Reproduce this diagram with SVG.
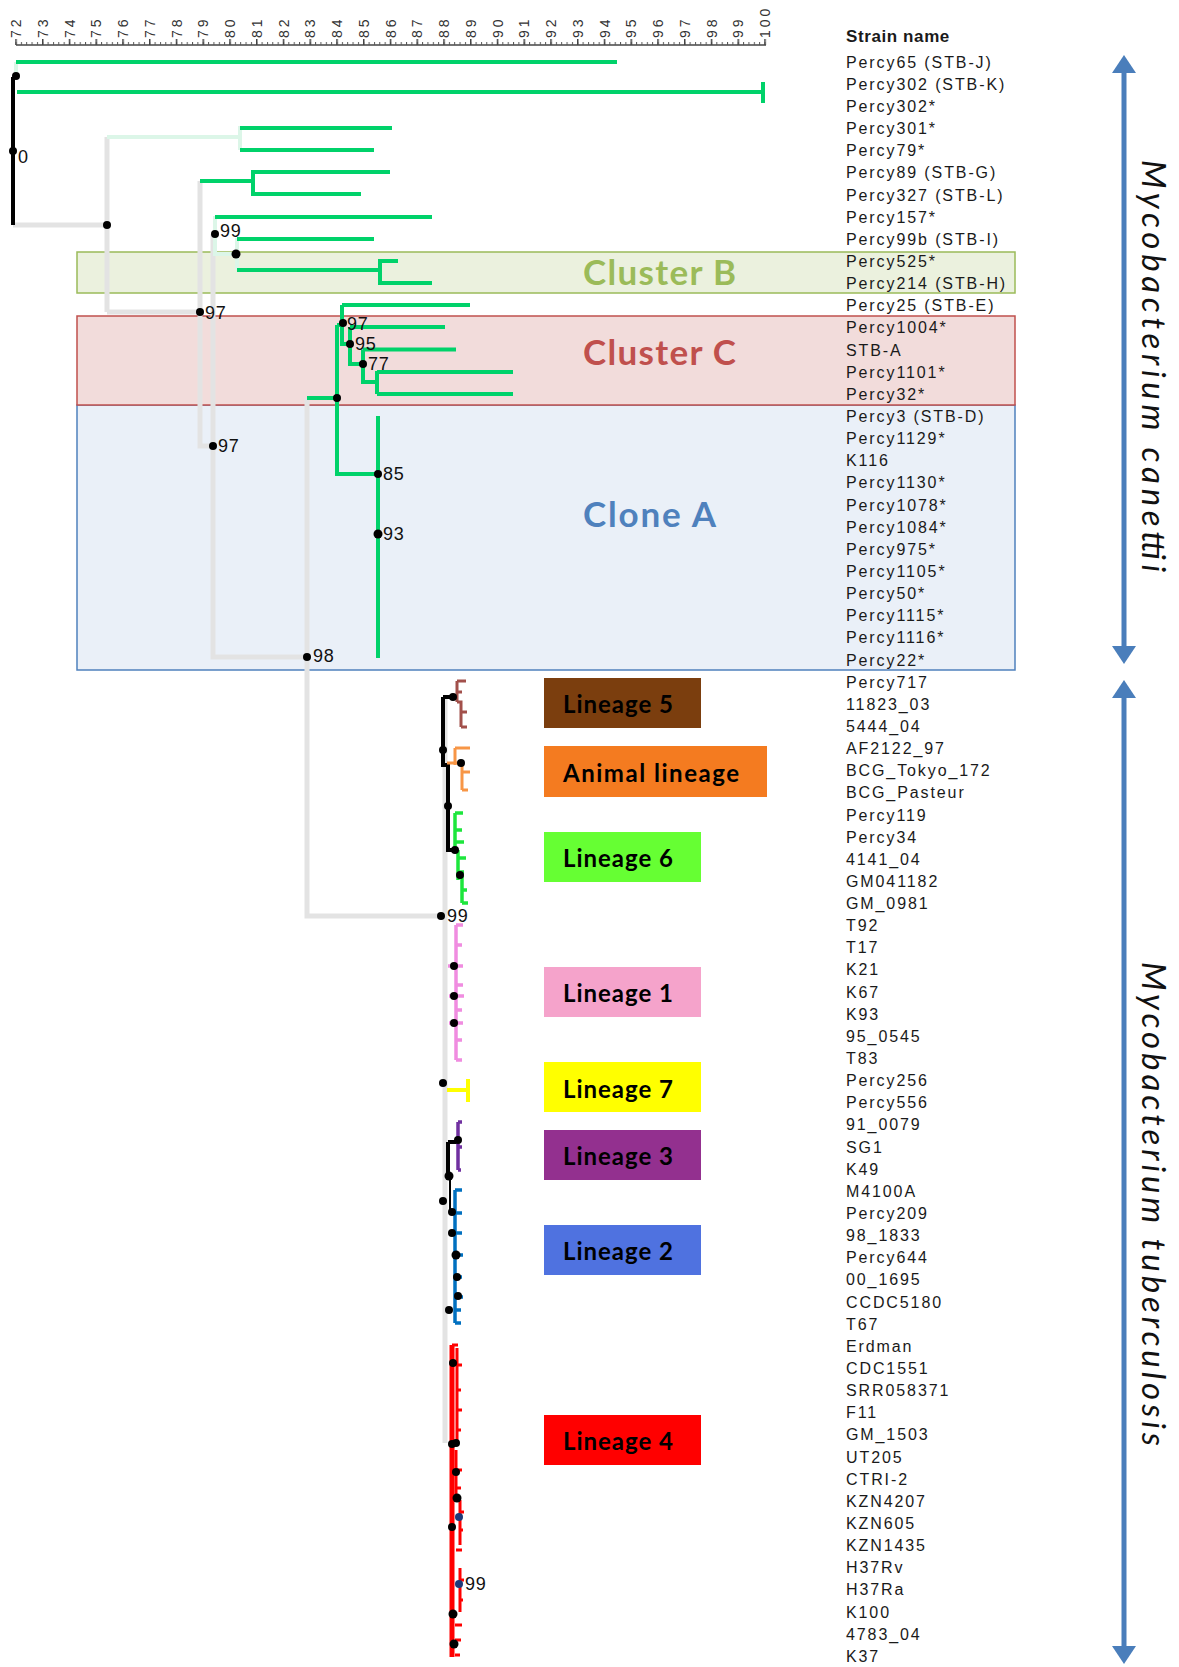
<svg xmlns="http://www.w3.org/2000/svg" width="1179" height="1667" viewBox="0 0 1179 1667">
<defs>
<style>
.lf{font-family:"Liberation Sans",Arial,sans-serif;font-size:16px;letter-spacing:1.9px;fill:#1a1a1a}
.hd{font-family:"Liberation Sans",Arial,sans-serif;font-size:17px;font-weight:bold;letter-spacing:0.6px;fill:#1a1a1a}
.tk{font-family:"Liberation Sans",Arial,sans-serif;font-size:14px;letter-spacing:3px;fill:#333}
.bs{font-family:"Liberation Sans",Arial,sans-serif;font-size:18px;letter-spacing:0.8px;fill:#111}
.cl{font-family:Lato,"Open Sans",sans-serif;font-size:35px;font-weight:bold}
.ln{font-family:Lato,"Open Sans",sans-serif;font-size:24px;font-weight:bold;fill:#000}
.sp{font-family:Lato,"Open Sans",sans-serif;font-size:33px;font-style:italic;fill:#111}
.g{fill:none;stroke:#00D26A;stroke-width:4}
.gr{fill:none;stroke:#E3E3E3;stroke-width:5}
.mt{fill:none;stroke:#DCF6E8;stroke-width:4}
.bk{fill:none;stroke:#000;stroke-width:4}
.d{fill:#000}
.db{fill:#1F3A7A}
.ar{stroke:#4A7EBB;stroke-width:5}
.arh{fill:#4A7EBB}
</style>
<pattern id="minor" patternUnits="userSpaceOnUse" x="15.5" y="0" width="5.35" height="50"><rect x="0" y="0" width="1" height="50" fill="#555"/></pattern>
<pattern id="major" patternUnits="userSpaceOnUse" x="15.25" y="0" width="26.75" height="50"><rect x="0" y="0" width="1.5" height="50" fill="#444"/></pattern>
</defs>
<rect width="1179" height="1667" fill="#fff"/>

<g id="clade-boxes">
<g id="clone-a"><rect x="77" y="405" width="938" height="265" fill="#EAF0F8" stroke="#4F81BD" stroke-width="1.5"/>
<text class="cl" x="583" y="527" fill="#4F81BD" textLength="133" lengthAdjust="spacing">Clone A</text></g>
<g id="cluster-c"><rect x="77" y="316" width="938" height="89" fill="#F2DCDB" stroke="#C0504D" stroke-width="1.5"/>
<text class="cl" x="583" y="365" fill="#C0504D" textLength="153" lengthAdjust="spacing">Cluster C</text></g>
<g id="cluster-b"><rect x="77" y="252" width="938" height="41" fill="#EBF1DE" stroke="#9BBB59" stroke-width="1.5"/>
<text class="cl" x="583" y="285" fill="#9BBB59" textLength="153" lengthAdjust="spacing">Cluster B</text></g>
</g>

<g id="axis">
<line x1="16" y1="45" x2="766" y2="45" stroke="#444" stroke-width="1.5"/>
<rect x="15" y="42" width="751" height="3" fill="url(#minor)"/>
<rect x="15" y="39" width="752" height="6" fill="url(#major)"/>
<g class="tk">
<text transform="translate(21,38) rotate(-90)">72</text>
<text transform="translate(47.75,38) rotate(-90)">73</text>
<text transform="translate(74.5,38) rotate(-90)">74</text>
<text transform="translate(101.25,38) rotate(-90)">75</text>
<text transform="translate(128,38) rotate(-90)">76</text>
<text transform="translate(154.75,38) rotate(-90)">77</text>
<text transform="translate(181.5,38) rotate(-90)">78</text>
<text transform="translate(208.25,38) rotate(-90)">79</text>
<text transform="translate(235,38) rotate(-90)">80</text>
<text transform="translate(261.75,38) rotate(-90)">81</text>
<text transform="translate(288.5,38) rotate(-90)">82</text>
<text transform="translate(315.25,38) rotate(-90)">83</text>
<text transform="translate(342,38) rotate(-90)">84</text>
<text transform="translate(368.75,38) rotate(-90)">85</text>
<text transform="translate(395.5,38) rotate(-90)">86</text>
<text transform="translate(422.25,38) rotate(-90)">87</text>
<text transform="translate(449,38) rotate(-90)">88</text>
<text transform="translate(475.75,38) rotate(-90)">89</text>
<text transform="translate(502.5,38) rotate(-90)">90</text>
<text transform="translate(529.25,38) rotate(-90)">91</text>
<text transform="translate(556,38) rotate(-90)">92</text>
<text transform="translate(582.75,38) rotate(-90)">93</text>
<text transform="translate(609.5,38) rotate(-90)">94</text>
<text transform="translate(636.25,38) rotate(-90)">95</text>
<text transform="translate(663,38) rotate(-90)">96</text>
<text transform="translate(689.75,38) rotate(-90)">97</text>
<text transform="translate(716.5,38) rotate(-90)">98</text>
<text transform="translate(743.25,38) rotate(-90)">99</text>
<text transform="translate(770,38) rotate(-90)">100</text>
</g>
</g>

<g id="connectors">
<path class="gr" d="M13,225 H107 M107,137 V312 M107,312 H200 M200,181 V446 H213 M213,234 V657 H307 M307,398 V916 H441"/>
<path class="gr" d="M445,697 V1443" stroke-width="6"/>
<path class="mt" d="M16,62 V76 M107,137 H240 M240,126 V150 M215,216 V254 H237 M237,238 V270"/>
<path class="bk" d="M13,77 V225"/>
<path class="g" d="M16,62 H617 M17,92 H763 M763,82 V103"/>
<path class="g" d="M240,128 H392 M240,150 H374"/>
<path class="g" d="M200,181 H253 M253,170 V196 M253,172 H390 M253,194 H361"/>
<path class="g" d="M215,217 H432 M237,239 H374 M237,270 H380 M380,259 V285 M380,261 H398 M380,283 H432"/>
<path class="g" d="M307,398 H337 M337,325 V474 H378 M337,325 H342 M342,305 V344 H350 M342,305 H470 M350,327 V364 H363 M350,327 H445 M363,349.5 V382 H377 M363,349.5 H456 M377,371 V394 M377,372 H513 M377,394 H513"/>
<path class="g" d="M378,416 V658"/>
<path class="bk" d="M443,697 V750 M443,697 H453 M443,750 V765 H448 V850 H456"/>
<path fill="none" stroke="#A2504B" stroke-width="3" d="M453,697 H457 M457,681 V702 M457,681 H466 M457,692 H462 M457,702 H461 V727 M461,712 H467 M461,727 H467"/>
<path fill="none" stroke="#F79646" stroke-width="3" d="M455,748 H470 M455,748 V765 M447,763 H462 M462,763 V790 M462,772 H470 M462,790 H468"/>
<path fill="none" stroke="#1DE63C" stroke-width="3.5" d="M455,813 V850 M455,813 H463 M455,830 H462 M455,842 H464 M458,850 V880 M458,858 H466 M458,872 H464 M462,876 V903 M462,890 H467 M462,903 H468"/>
<path fill="none" stroke="#F08CE0" stroke-width="3.5" d="M456,925 V1060 M456,925 H463 M456,945 H462 M448,966 H463 M456,985 H463 M449,996 H464 M456,1010 H462 M449,1023 H463 M456,1040 H462 M456,1060 H462"/>
<path fill="none" stroke="#FFFF00" stroke-width="4" d="M447,1090 H468 M468,1079 V1102"/>
<path class="bk" stroke-width="3" d="M448,1142 V1176 M448,1142 H458"/>
<path fill="none" stroke="#7030A0" stroke-width="3.5" d="M458,1122 V1170 M458,1122 H462 M458,1147 H462 M458,1170 H461"/>
<path fill="none" stroke="#000" stroke-width="2" d="M450,1176 V1213"/>
<path fill="none" stroke="#0070C0" stroke-width="3.5" d="M455,1190 V1323 M455,1190 H462 M455,1213 H462 M455,1233 H462 M455,1255 H463 M455,1277 H462 M455,1297 H463 M455,1310 H461 M455,1323 H461"/>
<path fill="none" stroke="#FF0000" stroke-width="5" d="M452,1345 V1657"/>
<path fill="none" stroke="#FF0000" stroke-width="3" d="M452,1345 H458 M457,1348 V1440 M457,1365 H462 M457,1390 H461 M457,1410 H462 M457,1430 H461 M456,1450 V1500 M456,1470 H462 M456,1488 H461 M460,1500 V1545 M460,1512 H464 M460,1530 H463 M456,1550 H462 M460,1568 V1612 M460,1580 H464 M460,1600 H463 M455,1625 H462 M455,1640 H461 M455,1655 H460"/>
</g>

<g id="bootstrap-nodes">
<circle class="d" cx="16" cy="76" r="4"/>
<circle class="d" cx="13" cy="151" r="4"/><text class="bs" x="18" y="163">0</text>
<circle class="d" cx="107" cy="225" r="4"/>
<circle class="d" cx="200" cy="312" r="4"/><text class="bs" x="205" y="319">97</text>
<circle class="d" cx="215" cy="234" r="4"/><text class="bs" x="220" y="237">99</text>
<circle class="d" cx="236" cy="254" r="4.5"/>
<circle class="d" cx="213" cy="446" r="4"/><text class="bs" x="218" y="452">97</text>
<circle class="d" cx="307" cy="657" r="4"/><text class="bs" x="313" y="662">98</text>
<circle class="d" cx="337" cy="398" r="4"/>
<circle class="d" cx="343" cy="323" r="4"/><text class="bs" x="347" y="330">97</text>
<circle class="d" cx="350" cy="344" r="4"/><text class="bs" x="355" y="350">95</text>
<circle class="d" cx="363" cy="364" r="4"/><text class="bs" x="368" y="370">77</text>
<circle class="d" cx="378" cy="474" r="4"/><text class="bs" x="383" y="480">85</text>
<circle class="d" cx="378" cy="534" r="4.5"/><text class="bs" x="383" y="540">93</text>
<circle class="d" cx="441" cy="916" r="4"/><text class="bs" x="447" y="922">99</text>
<circle class="d" cx="453" cy="697" r="4"/>
<circle class="d" cx="443" cy="750" r="4"/>
<circle class="d" cx="461" cy="763" r="4"/>
<circle class="d" cx="448" cy="806" r="4"/>
<circle class="d" cx="455" cy="850" r="4"/>
<circle class="d" cx="460" cy="875" r="4"/>
<circle class="d" cx="454" cy="966" r="4"/>
<circle class="d" cx="454" cy="996" r="4"/>
<circle class="d" cx="454" cy="1023" r="4"/>
<circle class="d" cx="443" cy="1083" r="4"/>
<circle class="d" cx="458" cy="1140" r="4"/>
<circle class="d" cx="449" cy="1176" r="4.5"/>
<circle class="d" cx="443" cy="1201" r="4"/>
<circle class="d" cx="452" cy="1212" r="4"/>
<circle class="d" cx="452" cy="1233" r="4"/>
<circle class="d" cx="456" cy="1255" r="4.5"/>
<circle class="d" cx="457" cy="1277" r="4"/>
<circle class="d" cx="458" cy="1296" r="4"/>
<circle class="d" cx="449" cy="1310" r="4"/>
<circle class="d" cx="453" cy="1363" r="4"/>
<circle class="d" cx="452" cy="1444" r="4"/>
<circle class="d" cx="456" cy="1443" r="4"/>
<circle class="d" cx="456" cy="1472" r="4"/>
<circle class="d" cx="457" cy="1498" r="4.5"/>
<circle class="db" cx="459" cy="1517" r="4"/>
<circle class="d" cx="452" cy="1527" r="4"/>
<circle class="db" cx="459" cy="1584" r="4"/><text class="bs" x="465" y="1590">99</text>
<circle class="d" cx="453" cy="1614" r="4.5"/>
<circle class="d" cx="454" cy="1644" r="4.5"/>
</g>

<g id="lineage-labels">
<g id="lin5"><rect x="544" y="678" width="157" height="50" fill="#7B3E0E"/><text class="ln" x="563" y="713" textLength="110" lengthAdjust="spacing">Lineage 5</text></g>
<g id="lin-animal"><rect x="544" y="746" width="223" height="51" fill="#F47B20"/><text class="ln" x="563" y="782" textLength="176" lengthAdjust="spacing">Animal lineage</text></g>
<g id="lin6"><rect x="544" y="832" width="157" height="50" fill="#66FF33"/><text class="ln" x="563" y="867" textLength="110" lengthAdjust="spacing">Lineage 6</text></g>
<g id="lin1"><rect x="544" y="967" width="157" height="50" fill="#F5A3CB"/><text class="ln" x="563" y="1002" textLength="110" lengthAdjust="spacing">Lineage 1</text></g>
<g id="lin7"><rect x="544" y="1062" width="157" height="50" fill="#FFFF00"/><text class="ln" x="563" y="1098" textLength="110" lengthAdjust="spacing">Lineage 7</text></g>
<g id="lin3"><rect x="544" y="1130" width="157" height="50" fill="#93308F"/><text class="ln" x="563" y="1165" textLength="110" lengthAdjust="spacing">Lineage 3</text></g>
<g id="lin2"><rect x="544" y="1225" width="157" height="50" fill="#4F72E0"/><text class="ln" x="563" y="1260" textLength="110" lengthAdjust="spacing">Lineage 2</text></g>
<g id="lin4"><rect x="544" y="1415" width="157" height="50" fill="#FF0000"/><text class="ln" x="563" y="1450" textLength="110" lengthAdjust="spacing">Lineage 4</text></g>
</g>

<g id="strain-names">
<text class="hd" x="846" y="42">Strain name</text>
<g id="s0"><text class="lf" x="846" y="67.7">Percy65 (STB-J)</text></g>
<g id="s1"><text class="lf" x="846" y="89.8">Percy302 (STB-K)</text></g>
<g id="s2"><text class="lf" x="846" y="112">Percy302*</text></g>
<g id="s3"><text class="lf" x="846" y="134.1">Percy301*</text></g>
<g id="s4"><text class="lf" x="846" y="156.3">Percy79*</text></g>
<g id="s5"><text class="lf" x="846" y="178.4">Percy89 (STB-G)</text></g>
<g id="s6"><text class="lf" x="846" y="200.5">Percy327 (STB-L)</text></g>
<g id="s7"><text class="lf" x="846" y="222.7">Percy157*</text></g>
<g id="s8"><text class="lf" x="846" y="244.8">Percy99b (STB-I)</text></g>
<g id="s9"><text class="lf" x="846" y="267">Percy525*</text></g>
<g id="s10"><text class="lf" x="846" y="289.1">Percy214 (STB-H)</text></g>
<g id="s11"><text class="lf" x="846" y="311.2">Percy25 (STB-E)</text></g>
<g id="s12"><text class="lf" x="846" y="333.4">Percy1004*</text></g>
<g id="s13"><text class="lf" x="846" y="355.5">STB-A</text></g>
<g id="s14"><text class="lf" x="846" y="377.7">Percy1101*</text></g>
<g id="s15"><text class="lf" x="846" y="399.8">Percy32*</text></g>
<g id="s16"><text class="lf" x="846" y="421.9">Percy3 (STB-D)</text></g>
<g id="s17"><text class="lf" x="846" y="444.1">Percy1129*</text></g>
<g id="s18"><text class="lf" x="846" y="466.2">K116</text></g>
<g id="s19"><text class="lf" x="846" y="488.4">Percy1130*</text></g>
<g id="s20"><text class="lf" x="846" y="510.5">Percy1078*</text></g>
<g id="s21"><text class="lf" x="846" y="532.6">Percy1084*</text></g>
<g id="s22"><text class="lf" x="846" y="554.8">Percy975*</text></g>
<g id="s23"><text class="lf" x="846" y="576.9">Percy1105*</text></g>
<g id="s24"><text class="lf" x="846" y="599.1">Percy50*</text></g>
<g id="s25"><text class="lf" x="846" y="621.2">Percy1115*</text></g>
<g id="s26"><text class="lf" x="846" y="643.3">Percy1116*</text></g>
<g id="s27"><text class="lf" x="846" y="665.5">Percy22*</text></g>
<g id="s28"><text class="lf" x="846" y="687.6">Percy717</text></g>
<g id="s29"><text class="lf" x="846" y="709.8">11823_03</text></g>
<g id="s30"><text class="lf" x="846" y="732">5444_04</text></g>
<g id="s31"><text class="lf" x="846" y="754">AF2122_97</text></g>
<g id="s32"><text class="lf" x="846" y="776.2">BCG_Tokyo_172</text></g>
<g id="s33"><text class="lf" x="846" y="798.3">BCG_Pasteur</text></g>
<g id="s34"><text class="lf" x="846" y="820.5">Percy119</text></g>
<g id="s35"><text class="lf" x="846" y="842.6">Percy34</text></g>
<g id="s36"><text class="lf" x="846" y="864.7">4141_04</text></g>
<g id="s37"><text class="lf" x="846" y="886.9">GM041182</text></g>
<g id="s38"><text class="lf" x="846" y="909">GM_0981</text></g>
<g id="s39"><text class="lf" x="846" y="931.2">T92</text></g>
<g id="s40"><text class="lf" x="846" y="953.3">T17</text></g>
<g id="s41"><text class="lf" x="846" y="975.4">K21</text></g>
<g id="s42"><text class="lf" x="846" y="997.6">K67</text></g>
<g id="s43"><text class="lf" x="846" y="1019.7">K93</text></g>
<g id="s44"><text class="lf" x="846" y="1041.9">95_0545</text></g>
<g id="s45"><text class="lf" x="846" y="1064">T83</text></g>
<g id="s46"><text class="lf" x="846" y="1086.1">Percy256</text></g>
<g id="s47"><text class="lf" x="846" y="1108.3">Percy556</text></g>
<g id="s48"><text class="lf" x="846" y="1130.4">91_0079</text></g>
<g id="s49"><text class="lf" x="846" y="1152.6">SG1</text></g>
<g id="s50"><text class="lf" x="846" y="1174.7">K49</text></g>
<g id="s51"><text class="lf" x="846" y="1196.8">M4100A</text></g>
<g id="s52"><text class="lf" x="846" y="1219">Percy209</text></g>
<g id="s53"><text class="lf" x="846" y="1241.1">98_1833</text></g>
<g id="s54"><text class="lf" x="846" y="1263.3">Percy644</text></g>
<g id="s55"><text class="lf" x="846" y="1285.4">00_1695</text></g>
<g id="s56"><text class="lf" x="846" y="1307.5">CCDC5180</text></g>
<g id="s57"><text class="lf" x="846" y="1329.7">T67</text></g>
<g id="s58"><text class="lf" x="846" y="1351.8">Erdman</text></g>
<g id="s59"><text class="lf" x="846" y="1374">CDC1551</text></g>
<g id="s60"><text class="lf" x="846" y="1396.1">SRR058371</text></g>
<g id="s61"><text class="lf" x="846" y="1418.2">F11</text></g>
<g id="s62"><text class="lf" x="846" y="1440.4">GM_1503</text></g>
<g id="s63"><text class="lf" x="846" y="1462.5">UT205</text></g>
<g id="s64"><text class="lf" x="846" y="1484.7">CTRI-2</text></g>
<g id="s65"><text class="lf" x="846" y="1506.8">KZN4207</text></g>
<g id="s66"><text class="lf" x="846" y="1528.9">KZN605</text></g>
<g id="s67"><text class="lf" x="846" y="1551.1">KZN1435</text></g>
<g id="s68"><text class="lf" x="846" y="1573.2">H37Rv</text></g>
<g id="s69"><text class="lf" x="846" y="1595.4">H37Ra</text></g>
<g id="s70"><text class="lf" x="846" y="1617.5">K100</text></g>
<g id="s71"><text class="lf" x="846" y="1639.6">4783_04</text></g>
<g id="s72"><text class="lf" x="846" y="1661.8">K37</text></g>
</g>

<g id="species-canettii">
<line class="ar" x1="1124" y1="70" x2="1124" y2="649"/>
<polygon class="arh" points="1124,55 1112,73 1136,73"/>
<polygon class="arh" points="1124,664 1112,646 1136,646"/>
<text class="sp" transform="translate(1142,366) rotate(90)" text-anchor="middle" textLength="412" lengthAdjust="spacing">Mycobacterium canettii</text>
</g>
<g id="species-tuberculosis">
<line class="ar" x1="1124" y1="695" x2="1124" y2="1649"/>
<polygon class="arh" points="1124,680 1112,698 1136,698"/>
<polygon class="arh" points="1124,1664 1112,1646 1136,1646"/>
<text class="sp" transform="translate(1142,1204) rotate(90)" text-anchor="middle" textLength="484" lengthAdjust="spacing">Mycobacterium tuberculosis</text>
</g>
</svg>
